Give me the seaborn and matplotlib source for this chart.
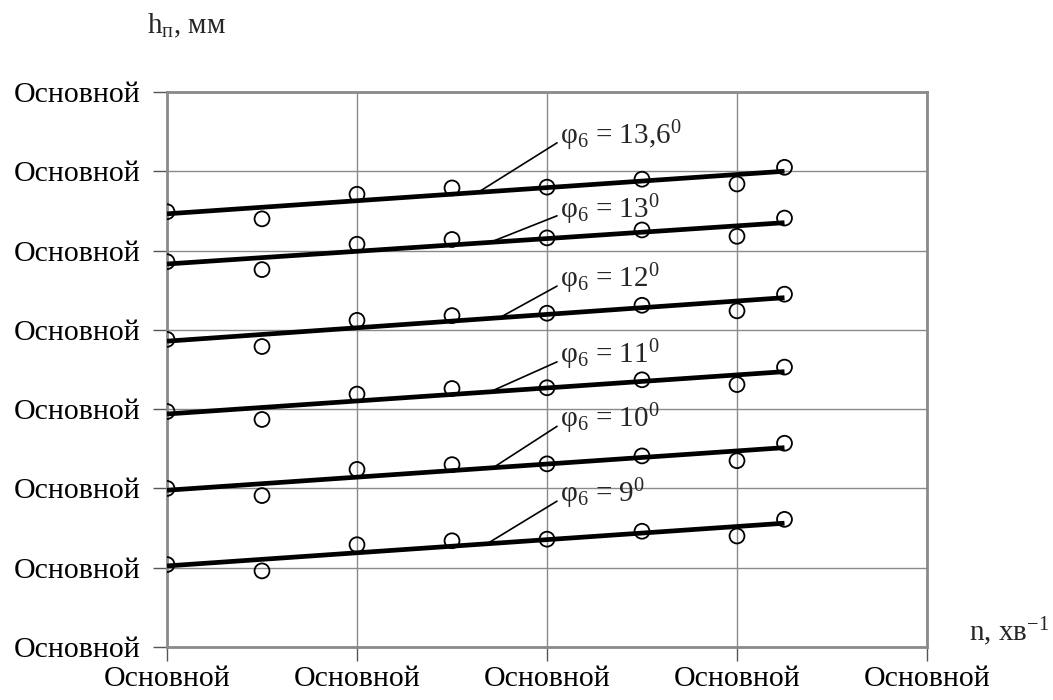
import numpy as np
import pandas as pd
import matplotlib
matplotlib.use("Agg")
import matplotlib.pyplot as plt
import seaborn as sns

# Spindle speed positions (in axis units) and measured heights per angle
n_values = [0.0, 0.5, 1.0, 1.5, 2.0, 2.5, 3.0, 3.25]
h_phi_9 = [1.04, 0.96, 1.29, 1.34, 1.36, 1.46, 1.40, 1.61]
h_phi_10 = [2.00, 1.91, 2.24, 2.30, 2.31, 2.41, 2.35, 2.57]
h_phi_11 = [2.97, 2.87, 3.19, 3.26, 3.27, 3.37, 3.31, 3.53]
h_phi_12 = [3.88, 3.79, 4.12, 4.18, 4.21, 4.31, 4.24, 4.45]
h_phi_13 = [4.86, 4.76, 5.08, 5.14, 5.16, 5.26, 5.18, 5.41]
h_phi_13_6 = [5.49, 5.40, 5.71, 5.79, 5.80, 5.90, 5.84, 6.05]
angle_labels = ["9", "10", "11", "12", "13", "13,6"]

x_ticks = [0, 1, 2, 3, 4]
y_ticks = [0, 1, 2, 3, 4, 5, 6, 7]
tick_text = "Основной"

series = [h_phi_9, h_phi_10, h_phi_11, h_phi_12, h_phi_13, h_phi_13_6]
df = pd.concat(
    [pd.DataFrame({"n": n_values, "h": s, "phi": a}) for s, a in zip(series, angle_labels)],
    ignore_index=True,
)

sns.set_theme(style="white")
plt.rcParams["font.family"] = ["Liberation Serif", "DejaVu Serif"]
plt.rcParams["mathtext.fontset"] = "custom"
plt.rcParams["mathtext.rm"] = "Liberation Serif"
plt.rcParams["mathtext.it"] = "Liberation Serif:italic"
plt.rcParams["mathtext.bf"] = "Liberation Serif:bold"

fig = plt.figure(figsize=(10.53, 7.0), dpi=100)
ax = fig.add_axes([167 / 1053, 53 / 700, 760 / 1053, 555 / 700])

grid_c = "#8a8a8a"
for a in angle_labels:
    sub = df[df["phi"] == a]
    sns.regplot(data=sub, x="n", y="h", ax=ax, ci=None, scatter=False, truncate=True,
                line_kws=dict(color="black", lw=3.4, solid_capstyle="butt", zorder=3))
sns.scatterplot(data=df, x="n", y="h", ax=ax, marker="o", s=115,
                facecolor="none", edgecolor="black", linewidth=1.3, zorder=4, legend=False)

# Leader-line labels for each fitted line
label_anchor_x = {"9": 1.684, "10": 1.716, "11": 1.70, "12": 1.75, "13": 1.70, "13,6": 1.637}
label_text_y = {"9": 1.93, "10": 2.875, "11": 3.68, "12": 4.64, "13": 5.52, "13,6": 6.45}
for a in angle_labels:
    sub = df[df["phi"] == a]
    k, b = np.polyfit(sub["n"], sub["h"], 1)
    xa = label_anchor_x[a]
    ax.annotate(r"φ$_{\mathrm{6}}$ = " + a + r"$^{\mathrm{0}}$",
                xy=(xa, k * xa + b), xytext=(2.07, label_text_y[a]),
                textcoords="data", ha="left", va="center", fontsize=21,
                arrowprops=dict(arrowstyle="-", lw=1.2, color="black",
                                shrinkA=0, shrinkB=0, relpos=(0.0, 0.35)),
                zorder=5)

ax.set_xlim(0, 4)
ax.set_ylim(0, 7)
ax.set_xticks(x_ticks)
ax.set_yticks(y_ticks)
ax.set_xticklabels([tick_text] * len(x_ticks), fontsize=21.5)
ax.set_yticklabels([tick_text] * len(y_ticks), fontsize=21.5)
ax.set_xlabel("")
ax.set_ylabel("")
ax.grid(True, color=grid_c, lw=1.0)
ax.set_axisbelow(True)
for sp in ax.spines.values():
    sp.set_visible(True)
    sp.set_color(grid_c)
    sp.set_linewidth(2.0)
ax.tick_params(axis="both", which="major", direction="out", length=10, width=1.0,
               color="#555555", labelcolor="black", bottom=True, left=True)
ax.tick_params(axis="x", pad=4)
ax.tick_params(axis="y", pad=9)

fig.text(147 / 1053, 1 - 33 / 700, r"h$_{\mathrm{п}}$, мм", fontsize=21, ha="left", va="baseline")
fig.text(969 / 1053, 1 - 641 / 700, r"n, хв$^{\mathrm{-1}}$", fontsize=21, ha="left", va="baseline")

fig.savefig("out.png", dpi=100, facecolor="white")
